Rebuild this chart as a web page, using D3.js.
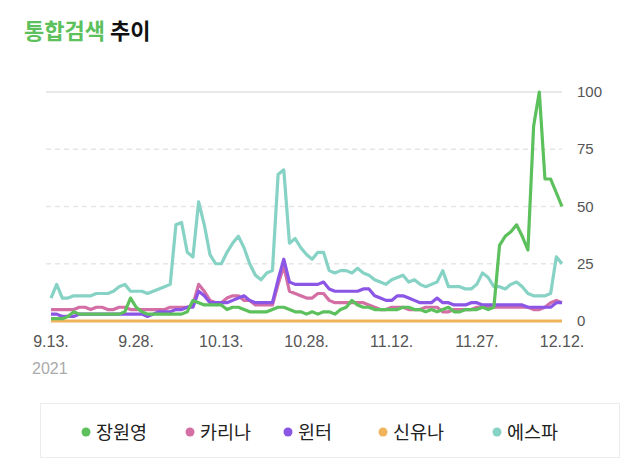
<!DOCTYPE html>
<html>
<head>
<meta charset="utf-8">
<script src="https://cdn.jsdelivr.net/npm/d3@7"></script>
<style>
  body { margin: 0; background: #fff; }
  svg { font-family: "Noto Sans CJK KR", "Noto Sans", sans-serif; }
</style>
</head>
<body>
<svg id="chart" width="640" height="468"></svg>
<script>
const startDate = new Date(2021, 8, 13)
const tickLabels = ["9.13.", "9.28.", "10.13.", "10.28.", "11.12.", "11.27.", "12.12."]
const yTicks = [0, 25, 50, 75, 100]

const names = ["장원영", "카리나", "윈터", "신유나", "에스파"]
const colors = ["#5cc05c", "#d46fa5", "#8b55e6", "#f0b45c", "#86d2c4"]

const wonyoung = [1,1,1,2,4,3,3,3,3,3, 3,3,3,4,10,6,4,3,3,3, 3,3,3,3,4,9,8,7,7,7,
  7,5,6,6,5,4,4,4,4,5, 6,6,5,4,4,3,4,3,4,4, 3,5,6,9,7,6,6,5,5,5,
  5,5,6,6,5,5,4,5,4,5, 6,4,4,5,5,5,6,5,6,33, 37,39,42,37,31,85,100,62,62,56, 50]
const karina = [5,5,5,5,5,6,6,5,6,6, 5,5,6,6,5,5,5,5,5,5, 5,6,6,6,6,7,16,13,9,8,
  8,10,11,11,9,9,7,7,7,7, 16,24,13,12,11,10,10,12,12,9, 8,8,8,8,8,8,7,6,5,5,
  6,6,6,5,5,5,6,6,6,4, 4,5,5,5,5,6,6,6,6,6, 6,6,6,6,6,5,5,6,8,9, 8]
const winter = [3,3,2,2,2,3,3,3,3,3, 3,3,3,3,3,3,3,2,3,4, 4,4,5,5,6,6,13,11,8,8,
  8,8,9,10,11,9,8,8,8,8, 18,27,17,16,16,16,16,16,17,14, 13,13,13,13,13,14,14,11,10,9,
  9,11,11,10,9,8,8,8,10,8, 8,7,7,7,8,8,7,7,7,7, 7,7,7,7,6,6,6,6,6,8, 8]
const yuna = [0,0,0,0,0,0,0,0,0,0, 0,0,0,0,0,0,0,0,0,0, 0,0,0,0,0,0,0,0,0,0,
  0,0,0,0,0,0,0,0,0,0, 0,0,0,0,0,0,0,0,0,0, 0,0,0,0,0,0,0,0,0,0,
  0,0,0,0,0,0,0,0,0,0, 0,0,0,0,0,0,0,0,0,0, 0,0,0,0,0,0,0,0,0,0, 0]
const aespa = [10,16,10,10,11,11,11,11,12,12, 12,13,15,16,13,13,13,12,13,14, 15,16,42,43,30,28,52,42,29,25,
  25,30,34,37,32,25,20,18,21,22, 64,66,34,36,32,29,27,30,30,22, 21,22,22,21,23,21,20,18,17,16,
  18,19,20,17,18,16,15,16,17,22, 15,15,15,14,14,16,21,19,15,15, 14,16,17,15,12,11,11,11,12,28, 25]

const series = [wonyoung, karina, winter, yuna, aespa]
const dates = wonyoung.map((d, i) => d3.timeDay.offset(startDate, i))

const svg = d3.select("#chart")

const x = d3.scaleTime()
    .domain([dates[0], dates[dates.length - 1]])
    .range([51, 562])
const y = d3.scaleLinear()
    .domain([0, 100])
    .range([321, 92])

// title
const title = svg.append("text")
    .attr("x", 24)
    .attr("y", 39)
    .attr("font-size", 22)
    .attr("font-weight", "bold")
title.append("tspan").attr("fill", "#5cc05c").text("통합검색")
title.append("tspan").attr("fill", "#111").text(" 추이")

// grid
svg.append("g")
    .selectAll("line")
    .data(yTicks.filter(d => d > 0))
    .join("line")
    .attr("x1", 46)
    .attr("x2", 562)
    .attr("y1", d => y(d))
    .attr("y2", d => y(d))
    .attr("stroke", d => d == 100 ? "#e2e2e2" : "#e6e6e6")
    .attr("stroke-width", 1.5)
    .attr("stroke-dasharray", d => d == 100 ? null : "5,4")

// y labels, on the right
svg.append("g")
    .selectAll("text")
    .data(yTicks)
    .join("text")
    .attr("x", 577)
    .attr("y", d => y(d) + 5)
    .attr("font-size", 15)
    .attr("fill", "#555")
    .attr("font-family", "'Liberation Sans', sans-serif")
    .text(d => d)

// x labels
const tickDates = tickLabels.map((t, i) => d3.timeDay.offset(startDate, i * 15))
svg.append("g")
    .selectAll("text")
    .data(tickDates)
    .join("text")
    .attr("x", d => x(d))
    .attr("y", 347)
    .attr("text-anchor", "middle")
    .attr("font-size", 16)
    .attr("fill", "#555")
    .attr("font-family", "'Liberation Sans', sans-serif")
    .text((d, i) => tickLabels[i])

svg.append("text")
    .attr("x", 32)
    .attr("y", 374)
    .attr("font-size", 16)
    .attr("fill", "#aaa")
    .attr("font-family", "'Liberation Sans', sans-serif")
    .text("2021")

// lines
const line = d3.line()
    .x((d, i) => x(dates[i]))
    .y(d => y(d))

const order = [4, 3, 1, 2, 0]
svg.append("g")
    .selectAll("path")
    .data(order)
    .join("path")
    .attr("d", k => line(series[k]))
    .attr("fill", "none")
    .attr("stroke", k => colors[k])
    .attr("stroke-width", 3.2)
    .attr("stroke-linejoin", "round")

// legend
svg.append("rect")
    .attr("x", 40.5)
    .attr("y", 403.5)
    .attr("width", 579)
    .attr("height", 54)
    .attr("fill", "#fff")
    .attr("stroke", "#ececec")

const legendX = [86, 190, 288, 383, 497]
const item = svg.append("g")
    .selectAll("g")
    .data(names)
    .join("g")
    .attr("transform", (d, i) => `translate(${legendX[i]},432)`)
item.append("circle")
    .attr("r", 4.5)
    .attr("fill", (d, i) => colors[i])
item.append("text")
    .attr("x", 10)
    .attr("y", 7)
    .attr("font-size", 18.5)
    .attr("fill", "#222")
    .text(d => d)
</script>
</body>
</html>
